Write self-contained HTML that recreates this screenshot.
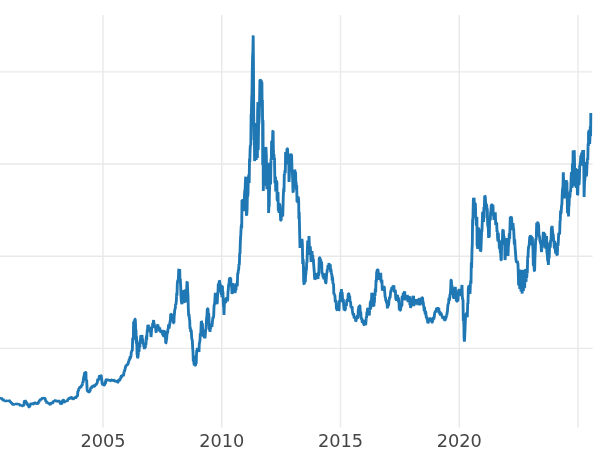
<!DOCTYPE html>
<html><head><meta charset="utf-8"><title>chart</title>
<style>
html,body{margin:0;padding:0;background:#fff;}
body{width:600px;height:450px;overflow:hidden;}
svg{display:block;}
.g line{stroke:#e9e9e9;stroke-width:1.42;}
.t{filter:grayscale(1);}
.t text{font-family:"DejaVu Sans","Liberation Sans",sans-serif;font-size:17.75px;fill:#454545;text-anchor:middle;}
.l{fill:none;stroke:#1f77b4;stroke-width:2.85;stroke-linejoin:bevel;stroke-linecap:butt;}
</style></head><body>
<svg width="600" height="450" viewBox="0 0 600 450">
<rect width="600" height="450" fill="#fff"/>
<g class="g"><line x1="103" y1="15" x2="103" y2="427.5"/><line x1="221.75" y1="15" x2="221.75" y2="427.5"/><line x1="340.5" y1="15" x2="340.5" y2="427.5"/><line x1="459.25" y1="15" x2="459.25" y2="427.5"/><line x1="578" y1="15" x2="578" y2="427.5"/><line x1="-5" y1="71.9" x2="592.6" y2="71.9"/><line x1="-5" y1="164.0" x2="592.6" y2="164.0"/><line x1="-5" y1="256.2" x2="592.6" y2="256.2"/><line x1="-5" y1="348.4" x2="592.6" y2="348.4"/></g>
<g class="t"><text x="103" y="447">2005</text><text x="221.75" y="447">2010</text><text x="340.5" y="447">2015</text><text x="459.25" y="447">2020</text></g>
<path class="l" d="M-2.0,398.0 L-1.7,397.8 L-1.4,397.7 L-1.1,398.4 L-0.9,397.7 L-0.6,398.3 L-0.3,398.1 L0.0,398.4 L0.3,397.8 L0.6,398.6 L0.9,397.9 L1.1,398.7 L1.4,398.2 L1.7,398.4 L2.0,399.2 L2.3,399.2 L2.6,400.2 L2.9,399.0 L3.1,399.4 L3.4,400.3 L3.7,401.1 L4.0,400.4 L4.3,400.7 L4.6,400.5 L4.9,401.8 L5.1,400.2 L5.4,401.9 L5.7,401.0 L6.0,401.6 L6.3,400.9 L6.6,400.7 L6.9,400.9 L7.1,401.7 L7.4,400.5 L7.7,401.1 L8.0,400.8 L8.3,401.2 L8.6,400.8 L8.9,401.2 L9.1,400.5 L9.4,400.6 L9.7,401.0 L10.0,401.6 L10.3,402.3 L10.6,402.0 L10.9,402.0 L11.1,402.9 L11.4,402.9 L11.7,402.9 L12.0,403.6 L12.3,404.2 L12.6,404.2 L12.9,403.5 L13.1,404.2 L13.4,404.2 L13.7,404.7 L14.0,404.4 L14.3,404.7 L14.6,404.0 L14.9,404.7 L15.1,403.6 L15.4,404.0 L15.7,404.5 L16.0,404.0 L16.3,403.4 L16.6,403.9 L16.9,403.3 L17.1,404.0 L17.4,404.1 L17.7,403.8 L18.0,403.6 L18.3,404.5 L18.6,403.6 L18.9,404.5 L19.1,404.5 L19.4,404.6 L19.7,404.5 L20.0,404.8 L20.3,405.5 L20.6,405.8 L20.9,405.1 L21.1,405.5 L21.4,404.6 L21.7,405.8 L22.0,405.6 L22.3,405.8 L22.6,405.9 L22.9,405.9 L23.1,405.0 L23.4,405.1 L23.7,405.3 L24.0,405.2 L24.3,400.7 L24.6,401.0 L24.9,401.3 L25.2,400.8 L25.4,401.0 L25.7,401.2 L26.0,402.4 L26.3,403.5 L26.6,402.3 L26.9,403.0 L27.1,403.7 L27.4,405.3 L27.7,403.7 L28.0,405.2 L28.3,405.4 L28.6,406.0 L28.8,407.0 L29.1,407.1 L29.4,406.8 L29.7,407.1 L30.0,404.9 L30.4,404.6 L30.7,403.9 L31.0,403.6 L31.3,404.4 L31.6,404.6 L31.9,403.3 L32.1,403.5 L32.4,403.7 L32.7,403.8 L33.0,404.4 L33.3,404.1 L33.6,404.1 L33.9,403.2 L34.1,402.5 L34.4,403.1 L34.7,402.8 L35.0,402.8 L35.3,403.0 L35.6,403.8 L35.9,403.5 L36.1,403.3 L36.4,403.6 L36.7,403.8 L37.0,403.6 L37.3,402.3 L37.6,403.9 L37.9,403.4 L38.1,403.3 L38.4,402.8 L38.7,401.7 L39.0,401.6 L39.3,401.2 L39.6,400.3 L39.9,401.2 L40.1,399.8 L40.4,399.6 L40.7,399.6 L41.0,400.0 L41.3,399.1 L41.6,399.3 L41.9,398.5 L42.1,398.2 L42.4,398.3 L42.7,398.0 L43.0,398.6 L43.3,398.3 L43.6,397.7 L43.8,398.9 L44.1,398.3 L44.4,398.0 L44.7,397.7 L45.0,398.6 L45.4,399.7 L45.7,400.4 L46.0,401.6 L46.3,400.9 L46.6,402.8 L46.9,403.3 L47.1,402.4 L47.4,402.7 L47.7,402.1 L48.0,403.2 L48.3,402.6 L48.6,403.2 L48.9,403.3 L49.1,404.5 L49.4,403.4 L49.7,403.3 L50.0,404.4 L50.3,404.7 L50.6,404.0 L50.9,403.0 L51.1,403.6 L51.4,402.3 L51.7,403.1 L52.0,402.8 L52.3,403.5 L52.6,403.1 L52.9,402.5 L53.1,401.4 L53.4,401.4 L53.7,400.8 L54.0,401.2 L54.3,401.6 L54.6,401.0 L54.9,401.3 L55.1,400.4 L55.4,400.2 L55.7,401.1 L56.0,400.4 L56.3,401.3 L56.6,401.1 L56.9,401.2 L57.1,401.3 L57.4,401.2 L57.7,400.5 L58.0,401.0 L58.3,401.3 L58.6,401.1 L58.9,400.7 L59.1,400.9 L59.4,401.6 L59.7,401.7 L60.0,402.4 L60.3,403.3 L60.7,403.9 L61.0,403.6 L61.3,402.9 L61.6,403.9 L61.9,403.5 L62.1,403.0 L62.4,401.0 L62.7,400.3 L63.0,400.4 L63.3,400.1 L63.6,400.2 L63.9,400.4 L64.1,401.3 L64.4,402.0 L64.7,402.0 L65.0,401.6 L65.3,401.4 L65.6,401.6 L65.9,401.8 L66.1,400.4 L66.4,401.3 L66.7,401.6 L67.0,400.8 L67.3,401.1 L67.6,400.7 L67.9,399.7 L68.1,398.7 L68.4,399.8 L68.7,398.4 L69.0,398.4 L69.3,398.9 L69.6,399.0 L69.9,397.9 L70.1,397.8 L70.4,398.6 L70.7,398.1 L71.0,397.6 L71.3,397.3 L71.6,397.3 L71.9,397.3 L72.1,398.7 L72.4,398.7 L72.7,397.7 L73.0,398.4 L73.3,398.7 L73.6,398.7 L73.9,398.5 L74.1,397.9 L74.4,398.2 L74.7,397.4 L75.0,398.0 L75.3,396.6 L75.6,398.5 L75.9,397.5 L76.1,396.9 L76.4,397.5 L76.7,396.0 L77.0,396.0 L77.3,396.3 L77.6,395.4 L77.8,391.8 L78.1,391.0 L78.4,391.0 L78.7,389.4 L79.0,388.3 L79.3,388.9 L79.6,387.6 L79.9,387.1 L80.2,387.2 L80.4,386.6 L80.7,387.8 L81.0,387.0 L81.3,385.9 L81.6,385.7 L81.8,385.5 L82.1,385.9 L82.4,384.0 L82.7,381.9 L83.0,383.2 L83.4,379.2 L83.7,377.9 L84.0,376.0 L84.3,375.5 L84.6,372.3 L85.0,373.6 L85.3,372.1 L85.6,372.4 L85.9,372.1 L86.1,380.8 L86.4,380.0 L86.7,379.7 L86.9,385.7 L87.2,390.0 L87.5,391.0 L87.8,391.4 L88.1,391.2 L88.4,392.4 L88.7,392.1 L89.0,392.0 L89.4,392.2 L89.7,390.3 L90.0,391.0 L90.3,390.3 L90.6,388.5 L91.0,387.8 L91.3,388.8 L91.6,387.0 L91.9,386.8 L92.2,386.6 L92.4,386.7 L92.7,386.8 L93.0,385.6 L93.3,385.7 L93.6,386.1 L93.8,386.1 L94.1,386.2 L94.4,386.4 L94.7,386.4 L95.0,385.5 L95.4,385.3 L95.7,384.7 L96.0,384.4 L96.3,385.0 L96.6,383.4 L97.0,383.2 L97.3,382.6 L97.6,380.0 L97.9,379.0 L98.2,379.4 L98.4,380.0 L98.7,379.5 L99.0,378.0 L99.3,376.3 L99.6,375.7 L100.0,376.4 L100.3,375.3 L100.6,375.6 L100.9,375.7 L101.3,376.0 L101.6,379.0 L101.9,381.7 L102.1,383.5 L102.4,383.6 L102.7,385.1 L103.0,383.3 L103.3,385.2 L103.6,385.0 L103.9,385.0 L104.2,383.5 L104.4,385.0 L104.7,385.0 L105.0,383.5 L105.3,381.4 L105.6,383.6 L105.8,380.4 L106.1,380.0 L106.4,379.0 L106.7,380.2 L107.0,380.1 L107.4,378.9 L107.7,379.7 L108.0,380.0 L108.3,380.2 L108.6,380.0 L108.9,379.8 L109.1,380.2 L109.4,381.2 L109.7,379.9 L110.0,381.0 L110.3,380.9 L110.6,380.5 L110.9,379.5 L111.1,380.0 L111.4,380.4 L111.7,380.0 L112.0,379.8 L112.3,379.5 L112.6,381.0 L112.9,380.7 L113.1,381.2 L113.4,379.6 L113.7,380.0 L114.0,380.6 L114.3,379.8 L114.6,381.4 L114.9,380.6 L115.1,380.4 L115.4,381.2 L115.7,382.2 L116.0,381.6 L116.3,382.3 L116.6,381.3 L116.9,381.2 L117.1,382.5 L117.4,382.2 L117.7,382.4 L118.0,382.2 L118.3,380.6 L118.6,380.0 L118.9,381.4 L119.1,380.2 L119.4,378.7 L119.7,380.7 L120.0,379.0 L120.3,378.9 L120.6,378.9 L120.9,376.3 L121.1,378.1 L121.4,375.2 L121.7,377.2 L122.0,375.6 L122.3,375.4 L122.6,375.0 L123.0,375.3 L123.3,376.0 L123.6,375.0 L123.9,372.8 L124.2,371.3 L124.4,372.1 L124.7,369.8 L125.0,370.0 L125.3,367.6 L125.6,367.0 L125.8,365.7 L126.1,365.7 L126.4,366.0 L126.7,365.1 L127.0,364.6 L127.4,365.6 L127.7,363.7 L128.0,364.0 L128.3,363.2 L128.6,361.1 L129.0,361.0 L129.3,358.8 L129.6,360.0 L129.9,358.1 L130.2,356.2 L130.4,358.6 L130.7,356.9 L131.0,356.0 L131.3,351.8 L131.7,351.7 L132.0,350.0 L132.3,351.0 L132.7,337.9 L133.0,340.0 L133.3,339.1 L133.6,322.0 L133.9,321.9 L134.2,320.8 L134.6,322.5 L134.9,319.0 L135.2,319.0 L135.5,323.7 L135.7,329.7 L136.0,330.0 L136.3,343.7 L136.5,336.4 L136.8,344.0 L137.1,354.5 L137.3,355.3 L137.6,358.0 L137.9,357.4 L138.2,354.9 L138.4,353.3 L138.7,349.5 L139.0,352.0 L139.3,345.5 L139.6,342.5 L139.8,347.5 L140.1,340.2 L140.4,340.0 L140.7,336.9 L141.0,335.3 L141.4,339.2 L141.7,338.3 L142.0,335.0 L142.3,340.1 L142.7,338.6 L143.0,344.0 L143.3,343.0 L143.6,344.6 L143.8,346.7 L144.1,345.9 L144.4,349.0 L144.7,346.9 L145.0,344.3 L145.3,348.0 L145.6,343.0 L145.9,345.5 L146.2,339.8 L146.4,335.5 L146.7,340.3 L147.0,334.0 L147.3,330.3 L147.6,329.1 L147.8,324.7 L148.1,326.3 L148.4,325.0 L148.7,326.3 L149.0,327.5 L149.3,326.7 L149.6,330.0 L149.9,331.5 L150.2,329.1 L150.4,332.4 L150.7,332.0 L151.0,337.0 L151.3,333.9 L151.6,328.9 L151.8,326.9 L152.1,327.8 L152.4,328.0 L152.7,323.2 L153.0,324.9 L153.3,322.6 L153.6,320.0 L153.9,323.5 L154.2,323.6 L154.4,325.2 L154.7,327.9 L155.0,326.0 L155.3,327.1 L155.7,328.2 L156.0,332.0 L156.3,332.3 L156.6,326.9 L157.0,329.3 L157.3,327.5 L157.6,325.0 L157.9,324.7 L158.2,327.5 L158.4,328.2 L158.7,327.4 L159.0,327.0 L159.3,329.6 L159.6,331.1 L159.8,327.6 L160.1,330.9 L160.4,332.0 L160.7,331.6 L161.0,332.5 L161.4,332.0 L161.7,331.7 L162.0,330.0 L162.3,331.8 L162.6,334.7 L163.0,334.7 L163.3,336.0 L163.6,336.0 L163.9,333.3 L164.2,331.1 L164.4,331.0 L164.7,332.0 L165.0,332.0 L165.3,331.0 L165.7,343.2 L166.0,343.0 L166.3,340.3 L166.7,338.4 L167.0,334.0 L167.3,333.4 L167.7,332.0 L168.0,329.0 L168.3,328.2 L168.6,324.3 L169.0,328.5 L169.3,326.9 L169.6,325.0 L169.9,322.5 L170.2,320.9 L170.4,320.0 L170.7,313.7 L171.0,314.0 L171.3,316.7 L171.6,314.4 L171.8,314.3 L172.1,316.5 L172.4,319.0 L172.7,321.4 L173.0,319.3 L173.3,323.2 L173.6,323.0 L173.9,323.3 L174.1,317.1 L174.4,314.0 L174.7,310.4 L175.0,308.8 L175.3,308.5 L175.6,304.0 L175.9,304.8 L176.2,301.8 L176.4,300.5 L176.7,292.8 L177.0,296.0 L177.3,284.0 L177.7,280.8 L178.0,280.0 L178.3,280.5 L178.7,270.0 L179.0,269.0 L179.3,274.9 L179.7,269.1 L180.0,282.0 L180.3,278.8 L180.7,287.1 L181.0,296.0 L181.3,300.6 L181.7,303.3 L182.0,304.0 L182.3,302.7 L182.7,294.7 L183.0,294.0 L183.3,293.0 L183.7,291.1 L184.0,290.0 L184.3,293.9 L184.7,291.8 L185.0,302.0 L185.3,302.3 L185.7,289.4 L186.0,290.0 L186.3,293.2 L186.7,289.9 L187.0,282.0 L187.3,281.7 L187.7,290.8 L188.0,296.0 L188.3,308.1 L188.7,316.5 L189.0,314.0 L189.3,318.1 L189.7,320.3 L190.0,329.0 L190.3,327.5 L190.7,331.9 L191.0,330.0 L191.3,330.7 L191.7,337.6 L192.0,340.0 L192.3,339.8 L192.7,348.3 L193.0,352.0 L193.3,361.5 L193.7,355.5 L194.0,364.0 L194.3,365.1 L194.6,364.4 L195.0,365.3 L195.3,365.3 L195.6,365.0 L195.9,359.3 L196.2,364.0 L196.4,357.1 L196.7,350.1 L197.0,352.0 L197.3,347.9 L197.7,349.4 L198.0,348.0 L198.3,349.2 L198.7,349.4 L199.0,352.0 L199.3,343.5 L199.7,342.1 L200.0,340.0 L200.3,333.4 L200.7,336.8 L201.0,328.0 L201.3,321.2 L201.6,321.5 L201.9,325.7 L202.2,327.9 L202.4,323.3 L202.7,331.9 L203.0,330.0 L203.3,333.3 L203.6,336.5 L203.8,333.1 L204.1,335.1 L204.4,338.0 L204.7,335.1 L205.0,338.3 L205.4,333.4 L205.7,329.1 L206.0,329.0 L206.3,323.3 L206.7,317.1 L207.0,316.0 L207.3,308.7 L207.7,308.7 L208.0,309.0 L208.3,317.0 L208.7,313.0 L209.0,319.0 L209.3,330.1 L209.7,323.6 L210.0,332.0 L210.3,328.2 L210.6,328.9 L211.0,324.4 L211.3,324.5 L211.6,324.0 L211.9,326.8 L212.2,324.1 L212.4,322.2 L212.7,319.2 L213.0,317.0 L213.3,318.2 L213.7,315.5 L214.0,307.0 L214.3,304.6 L214.7,303.5 L215.0,298.0 L215.3,292.8 L215.7,296.6 L216.0,293.0 L216.3,296.4 L216.7,303.2 L217.0,304.0 L217.3,301.7 L217.7,292.8 L218.0,292.0 L218.3,283.5 L218.7,292.3 L219.0,284.0 L219.3,280.7 L219.6,281.0 L219.9,283.9 L220.3,284.7 L220.6,290.0 L220.9,289.1 L221.3,294.8 L221.6,294.0 L221.9,297.0 L222.1,286.1 L222.4,286.0 L222.7,294.7 L222.9,291.3 L223.2,300.0 L223.5,306.3 L223.7,306.8 L224.0,315.0 L224.3,305.2 L224.7,301.3 L225.0,302.0 L225.3,298.1 L225.7,303.2 L226.0,298.0 L226.3,298.7 L226.7,297.5 L227.0,300.0 L227.3,301.0 L227.7,299.8 L228.0,292.0 L228.3,289.5 L228.7,283.7 L229.0,286.0 L229.3,279.5 L229.7,277.7 L230.0,278.0 L230.3,278.7 L230.7,277.7 L231.0,285.0 L231.3,284.5 L231.7,287.5 L232.0,294.0 L232.3,291.0 L232.7,292.8 L233.0,283.0 L233.3,286.9 L233.7,284.8 L234.0,287.0 L234.3,288.1 L234.7,291.1 L235.0,293.0 L235.3,291.1 L235.7,289.8 L236.0,290.0 L236.3,284.0 L236.7,283.8 L237.0,284.0 L237.3,286.1 L237.7,272.7 L238.0,274.0 L238.3,270.7 L238.7,269.0 L239.0,264.0 L239.3,265.3 L239.7,253.1 L240.0,254.0 L240.3,242.9 L240.6,236.9 L240.8,234.4 L241.1,228.2 L241.4,225.0 L241.7,228.6 L242.0,200.0 L242.3,206.7 L242.6,210.3 L242.8,199.1 L243.1,201.1 L243.4,211.0 L243.7,209.9 L244.1,209.7 L244.4,197.0 L244.7,191.4 L245.1,189.4 L245.4,182.0 L245.7,176.7 L246.1,199.1 L246.4,215.0 L246.7,215.3 L247.1,209.0 L247.4,193.0 L247.7,196.5 L248.0,194.0 L248.3,177.4 L248.6,177.0 L248.9,174.5 L249.2,183.0 L249.5,158.8 L249.8,161.9 L250.1,150.0 L250.4,145.2 L250.8,145.1 L251.1,115.0 L251.4,113.5 L251.7,99.2 L252.0,93.4 L252.3,70.0 L252.6,56.4 L252.9,51.1 L253.2,35.4 L253.5,70.0 L253.7,115.0 L254.1,140.0 L254.3,125.9 L254.6,161.0 L254.9,158.3 L255.1,129.2 L255.4,126.0 L255.7,157.7 L255.9,151.8 L256.2,160.0 L256.5,136.6 L256.7,122.9 L257.0,124.0 L257.4,158.0 L257.6,112.7 L257.9,102.0 L258.2,150.0 L258.6,125.0 L258.9,122.9 L259.3,115.3 L259.6,100.0 L259.9,80.5 L260.2,79.7 L260.5,80.0 L260.8,81.9 L261.0,83.0 L261.3,80.5 L261.6,83.3 L261.9,82.1 L262.1,106.2 L262.4,100.0 L262.6,125.0 L262.7,165.0 L263.0,120.3 L263.3,191.0 L263.6,180.8 L263.9,179.6 L264.2,185.6 L264.5,170.0 L264.8,167.9 L265.1,168.1 L265.4,153.1 L265.7,147.0 L266.0,148.2 L266.3,154.7 L266.6,172.0 L266.9,189.2 L267.2,186.6 L267.5,188.0 L267.8,171.2 L268.1,167.0 L268.4,162.7 L268.6,213.0 L268.9,206.2 L269.2,206.4 L269.4,194.1 L269.7,184.1 L270.0,185.0 L270.3,183.3 L270.6,184.1 L271.0,158.7 L271.3,160.0 L271.6,141.1 L271.9,143.8 L272.2,140.3 L272.5,142.7 L272.8,131.0 L273.1,130.7 L273.4,151.4 L273.6,155.4 L273.9,154.1 L274.2,160.0 L274.5,157.9 L274.9,183.2 L275.2,177.0 L275.5,176.8 L275.7,191.4 L276.0,190.0 L276.3,181.0 L276.6,181.0 L276.9,182.6 L277.1,198.9 L277.4,201.0 L277.7,193.0 L278.0,192.0 L278.3,210.7 L278.7,205.2 L279.0,213.0 L279.3,203.3 L279.6,205.0 L279.9,204.9 L280.3,212.8 L280.6,220.0 L280.9,220.3 L281.2,220.3 L281.4,213.3 L281.7,215.1 L282.0,216.0 L282.3,209.6 L282.7,216.7 L283.0,208.0 L283.3,195.6 L283.7,188.3 L284.0,192.0 L284.3,173.9 L284.7,174.4 L285.0,170.0 L285.3,173.1 L285.6,152.0 L285.9,159.4 L286.2,153.8 L286.5,156.4 L286.7,155.2 L287.0,148.7 L287.3,148.7 L287.6,149.0 L287.9,162.5 L288.1,164.4 L288.4,160.0 L288.7,153.8 L289.0,182.0 L289.3,177.2 L289.7,162.0 L290.0,156.0 L290.3,154.9 L290.6,154.7 L291.0,154.7 L291.3,154.7 L291.6,155.0 L292.0,170.0 L292.3,170.2 L292.7,179.9 L293.0,192.0 L293.3,192.3 L293.7,170.7 L294.0,172.0 L294.3,177.8 L294.6,169.7 L295.0,170.7 L295.3,176.7 L295.6,172.0 L295.9,187.2 L296.1,181.9 L296.4,190.0 L296.7,185.0 L297.0,202.0 L297.3,200.6 L297.6,199.3 L297.8,203.2 L298.1,196.4 L298.4,198.0 L298.7,201.4 L298.9,218.9 L299.2,212.0 L299.6,231.0 L300.0,248.0 L300.3,242.3 L300.6,244.4 L301.0,246.5 L301.3,244.9 L301.6,241.0 L301.9,238.9 L302.2,241.0 L302.4,245.0 L302.7,264.0 L303.0,259.0 L303.3,261.2 L303.7,281.2 L304.0,284.0 L304.3,284.3 L304.6,278.5 L305.0,276.0 L305.3,282.1 L305.6,275.0 L305.9,274.0 L306.2,266.8 L306.4,270.9 L306.7,262.0 L307.0,263.0 L307.3,251.9 L307.7,240.6 L308.0,245.0 L308.3,246.2 L308.7,245.4 L309.0,236.0 L309.3,244.2 L309.7,254.9 L310.0,251.0 L310.3,246.3 L310.7,253.7 L311.0,262.0 L311.3,257.6 L311.7,261.5 L312.0,251.0 L312.3,259.2 L312.7,255.0 L313.0,259.0 L313.3,258.9 L313.7,264.7 L314.0,269.0 L314.3,272.2 L314.7,279.3 L315.0,279.0 L315.3,274.7 L315.6,279.3 L315.8,277.7 L316.1,277.8 L316.4,273.0 L316.7,277.1 L317.0,276.5 L317.4,274.8 L317.7,275.9 L318.0,279.0 L318.3,272.4 L318.7,275.9 L319.0,267.0 L319.3,257.7 L319.7,257.7 L320.0,258.0 L320.3,263.9 L320.7,259.3 L321.0,265.0 L321.3,261.6 L321.7,263.8 L322.0,273.0 L322.3,273.5 L322.6,272.8 L323.0,277.0 L323.3,277.0 L323.6,275.0 L323.9,279.3 L324.2,274.4 L324.4,273.5 L324.7,274.4 L325.0,279.0 L325.3,280.4 L325.7,283.2 L326.0,283.0 L326.3,278.6 L326.7,272.8 L327.0,273.0 L327.3,269.2 L327.7,269.5 L328.0,265.0 L328.3,266.2 L328.7,266.0 L329.0,263.0 L329.3,267.6 L329.7,266.8 L330.0,266.0 L330.3,264.3 L330.6,272.2 L331.0,269.0 L331.3,273.1 L331.6,274.0 L331.9,274.9 L332.2,280.4 L332.4,277.0 L332.7,279.5 L333.0,284.0 L333.3,283.6 L333.6,284.8 L333.8,294.5 L334.1,293.3 L334.4,295.0 L334.7,294.8 L335.0,296.8 L335.3,302.5 L335.6,300.0 L335.9,302.2 L336.2,301.4 L336.4,308.9 L336.7,308.9 L337.0,310.0 L337.3,310.3 L337.6,307.2 L337.8,309.2 L338.1,310.3 L338.4,309.0 L338.7,310.3 L339.0,310.1 L339.4,300.4 L339.7,301.2 L340.0,302.0 L340.3,294.2 L340.6,292.6 L340.8,300.8 L341.1,293.2 L341.4,289.0 L341.7,296.6 L342.1,292.1 L342.4,296.0 L342.7,302.2 L343.0,299.4 L343.3,299.2 L343.6,304.0 L343.9,307.7 L344.2,310.3 L344.4,304.5 L344.7,309.4 L345.0,310.0 L345.3,310.0 L345.6,306.1 L345.8,306.5 L346.1,303.6 L346.4,306.0 L346.7,301.0 L347.0,299.9 L347.3,301.9 L347.6,299.0 L347.9,299.6 L348.2,294.3 L348.4,293.7 L348.7,293.7 L349.0,294.0 L349.3,299.1 L349.7,295.7 L350.0,302.0 L350.3,301.5 L350.6,302.4 L351.0,307.5 L351.3,307.1 L351.6,308.0 L351.9,306.2 L352.2,307.7 L352.4,310.9 L352.7,313.0 L353.0,314.0 L353.3,315.5 L353.6,313.3 L353.8,314.5 L354.1,318.2 L354.4,318.0 L354.7,317.9 L355.0,317.7 L355.4,318.5 L355.7,321.3 L356.0,321.0 L356.3,318.7 L356.6,319.4 L356.8,317.1 L357.1,316.1 L357.4,316.0 L357.7,317.8 L358.0,317.6 L358.3,309.6 L358.6,309.0 L358.9,306.2 L359.2,309.5 L359.4,305.7 L359.7,305.7 L360.0,306.0 L360.3,314.9 L360.7,311.6 L361.0,316.0 L361.3,319.6 L361.7,318.0 L362.0,320.0 L362.3,322.8 L362.6,321.4 L363.0,320.4 L363.3,320.7 L363.6,324.0 L363.9,324.3 L364.2,324.9 L364.5,325.3 L364.7,322.3 L365.0,325.3 L365.3,324.0 L365.6,325.0 L365.9,322.5 L366.3,316.8 L366.6,318.0 L366.9,312.1 L367.3,311.9 L367.6,308.0 L367.9,312.2 L368.2,307.7 L368.4,311.5 L368.7,314.5 L369.0,314.0 L369.3,315.5 L369.7,308.4 L370.0,310.0 L370.3,301.5 L370.7,309.4 L371.0,300.0 L371.3,303.9 L371.6,297.0 L371.8,292.7 L372.1,298.0 L372.4,293.0 L372.7,295.5 L373.0,304.6 L373.3,303.6 L373.6,306.0 L373.9,306.3 L374.2,298.7 L374.4,302.8 L374.7,294.4 L375.0,296.0 L375.3,288.6 L375.7,292.2 L376.0,280.0 L376.3,282.1 L376.7,271.5 L377.0,272.0 L377.3,269.4 L377.7,269.7 L378.0,269.6 L378.3,273.7 L378.7,274.5 L379.0,280.0 L379.3,275.5 L379.6,275.7 L379.8,279.3 L380.1,279.3 L380.4,275.0 L380.7,272.8 L381.0,279.1 L381.3,282.7 L381.6,282.0 L381.9,279.9 L382.3,290.5 L382.6,290.0 L382.9,286.7 L383.2,289.1 L383.4,287.9 L383.7,287.7 L384.0,286.0 L384.3,287.5 L384.7,291.5 L385.0,296.0 L385.3,297.6 L385.6,297.8 L385.8,300.9 L386.1,300.4 L386.4,302.0 L386.7,303.0 L387.0,300.2 L387.3,307.4 L387.6,308.0 L387.9,306.0 L388.2,302.3 L388.4,305.7 L388.7,304.4 L389.0,300.0 L389.3,299.2 L389.7,296.7 L390.0,298.0 L390.3,295.6 L390.7,290.8 L391.0,292.0 L391.3,288.9 L391.6,290.0 L391.8,287.0 L392.1,288.4 L392.4,288.0 L392.7,287.6 L393.0,285.7 L393.3,287.7 L393.6,286.0 L393.9,285.7 L394.2,290.6 L394.4,292.2 L394.7,291.1 L395.0,292.0 L395.3,289.9 L395.7,297.1 L396.0,300.0 L396.3,298.1 L396.6,300.8 L397.0,294.7 L397.3,298.6 L397.6,295.0 L397.9,300.6 L398.2,299.9 L398.4,302.0 L398.7,297.6 L399.0,302.0 L399.3,310.3 L399.7,307.0 L400.0,310.0 L400.3,310.3 L400.6,310.3 L401.0,302.6 L401.3,307.1 L401.6,303.0 L401.9,305.9 L402.2,295.8 L402.4,297.3 L402.7,300.1 L403.0,296.0 L403.3,293.1 L403.6,296.9 L403.8,292.2 L404.1,295.1 L404.4,292.0 L404.7,291.7 L405.0,295.5 L405.3,300.3 L405.6,299.0 L405.9,296.8 L406.2,296.7 L406.4,297.8 L406.7,296.5 L407.0,297.0 L407.3,295.1 L407.6,296.5 L407.8,296.7 L408.1,302.2 L408.4,300.0 L408.7,300.6 L409.0,301.8 L409.3,296.7 L409.6,297.0 L409.9,305.1 L410.3,298.7 L410.6,308.0 L410.9,306.3 L411.2,306.2 L411.4,301.7 L411.7,305.6 L412.0,300.0 L412.3,299.3 L412.7,298.2 L413.0,296.0 L413.3,301.8 L413.6,295.7 L413.8,306.1 L414.1,303.4 L414.4,304.0 L414.7,302.1 L415.0,304.6 L415.4,299.0 L415.7,304.3 L416.0,299.0 L416.3,300.9 L416.6,300.3 L417.0,304.6 L417.3,303.2 L417.6,305.0 L417.9,301.0 L418.2,304.7 L418.4,298.7 L418.7,303.0 L419.0,299.0 L419.3,298.7 L419.6,302.2 L419.8,305.3 L420.1,303.4 L420.4,304.0 L420.7,303.8 L421.0,299.9 L421.3,297.7 L421.6,299.0 L421.9,297.7 L422.3,297.7 L422.6,298.0 L422.9,302.0 L423.3,302.5 L423.6,306.0 L423.9,307.1 L424.2,311.1 L424.4,307.1 L424.7,308.9 L425.0,312.0 L425.3,314.2 L425.6,311.2 L425.8,312.3 L426.1,315.8 L426.4,318.0 L426.7,316.7 L427.0,319.2 L427.4,319.4 L427.7,322.3 L428.0,323.0 L428.3,322.5 L428.6,319.9 L429.0,321.2 L429.3,319.8 L429.6,319.0 L429.9,317.7 L430.2,321.5 L430.4,318.3 L430.7,318.1 L431.0,320.0 L431.3,318.7 L431.6,321.4 L431.8,322.3 L432.1,322.3 L432.4,322.0 L432.7,320.6 L433.0,319.2 L433.4,317.1 L433.7,319.5 L434.0,318.0 L434.3,316.4 L434.7,312.9 L435.0,312.0 L435.3,312.5 L435.6,310.5 L435.8,312.5 L436.1,310.9 L436.4,309.0 L436.7,307.8 L437.0,310.3 L437.4,307.7 L437.7,308.4 L438.0,308.0 L438.3,308.7 L438.6,308.3 L438.8,308.2 L439.1,313.5 L439.4,313.0 L439.7,311.1 L440.0,313.6 L440.4,315.3 L440.7,312.4 L441.0,314.0 L441.3,313.2 L441.6,315.7 L442.0,315.8 L442.3,317.1 L442.6,317.0 L442.9,318.8 L443.2,316.2 L443.5,317.3 L443.7,317.7 L444.0,317.0 L444.3,320.3 L444.6,320.0 L444.9,320.3 L445.2,319.9 L445.4,315.7 L445.7,319.3 L446.0,317.0 L446.3,317.4 L446.6,314.8 L446.8,315.5 L447.1,312.5 L447.4,312.0 L447.7,307.5 L448.0,304.5 L448.3,303.6 L448.6,304.0 L448.9,297.7 L449.2,298.2 L449.4,300.7 L449.7,297.9 L450.0,294.0 L450.3,294.7 L450.7,288.5 L451.0,280.0 L451.3,279.9 L451.7,284.7 L452.0,286.0 L452.3,287.7 L452.6,294.7 L452.8,293.5 L453.1,292.2 L453.4,298.0 L453.7,297.6 L454.0,298.6 L454.4,290.9 L454.7,294.8 L455.0,290.0 L455.3,286.9 L455.6,291.5 L456.0,293.5 L456.3,301.3 L456.6,301.0 L456.9,301.3 L457.2,301.3 L457.4,299.2 L457.7,301.3 L458.0,300.0 L458.3,294.0 L458.7,290.0 L459.0,290.0 L459.3,293.2 L459.7,290.3 L460.0,289.0 L460.3,292.7 L460.7,293.6 L461.0,294.0 L461.3,296.1 L461.7,287.9 L462.0,285.0 L462.3,296.5 L462.7,299.5 L463.0,300.0 L463.3,321.3 L463.6,320.0 L463.9,325.1 L464.1,337.7 L464.4,341.6 L464.7,336.3 L465.0,330.0 L465.3,321.3 L465.7,315.0 L466.0,314.0 L466.3,315.6 L466.7,312.4 L467.0,316.0 L467.3,317.3 L467.7,303.0 L468.0,304.0 L468.3,289.4 L468.7,285.9 L469.0,286.0 L469.3,293.2 L469.7,289.5 L470.0,294.0 L470.3,286.3 L470.7,280.6 L471.0,284.0 L471.3,262.4 L471.6,268.0 L472.0,250.0 L472.3,244.1 L472.6,220.0 L472.9,218.5 L473.1,212.2 L473.4,198.0 L473.7,204.8 L474.1,197.7 L474.4,206.0 L474.7,206.3 L475.1,203.1 L475.4,204.0 L475.7,214.9 L476.0,218.6 L476.3,225.7 L476.6,220.0 L476.9,217.1 L477.1,245.3 L477.4,246.0 L477.7,248.8 L478.0,246.7 L478.3,227.4 L478.6,230.0 L478.9,229.1 L479.3,230.8 L479.6,242.0 L479.9,237.4 L480.3,251.3 L480.6,251.0 L480.9,250.4 L481.3,240.3 L481.6,230.0 L481.9,231.6 L482.3,221.6 L482.6,212.0 L482.9,212.1 L483.3,211.8 L483.6,222.0 L483.9,207.0 L484.1,218.2 L484.4,206.0 L484.7,195.7 L485.0,196.0 L485.3,197.4 L485.7,203.3 L486.0,210.0 L486.3,203.7 L486.7,205.9 L487.0,208.0 L487.3,209.6 L487.7,225.3 L488.0,226.0 L488.3,228.1 L488.6,238.0 L488.9,227.4 L489.3,237.1 L489.6,220.0 L489.9,217.7 L490.3,220.4 L490.6,212.0 L490.9,211.6 L491.3,204.7 L491.6,205.0 L491.9,204.7 L492.2,204.7 L492.4,208.6 L492.7,204.7 L493.0,206.0 L493.3,215.3 L493.7,215.5 L494.0,220.0 L494.3,214.7 L494.7,219.9 L495.0,214.0 L495.3,212.3 L495.7,225.0 L496.0,224.0 L496.3,222.6 L496.7,223.4 L497.0,232.0 L497.3,230.6 L497.6,237.7 L498.0,241.3 L498.3,232.9 L498.6,240.0 L498.9,241.5 L499.2,243.1 L499.4,248.7 L499.7,242.4 L500.0,248.0 L500.3,252.1 L500.7,253.0 L501.0,260.0 L501.3,260.1 L501.7,241.3 L502.0,240.0 L502.3,244.8 L502.7,230.1 L503.0,230.0 L503.3,229.7 L503.7,237.6 L504.0,236.0 L504.3,244.6 L504.7,241.1 L505.0,260.0 L505.3,257.4 L505.7,242.8 L506.0,246.0 L506.3,248.0 L506.7,243.8 L507.0,238.0 L507.3,250.9 L507.7,252.2 L508.0,256.0 L508.3,247.4 L508.7,243.4 L509.0,240.0 L509.3,233.3 L509.7,238.6 L510.0,226.0 L510.3,216.7 L510.7,226.6 L511.0,217.0 L511.3,216.7 L511.7,218.8 L512.0,228.0 L512.3,223.1 L512.7,230.1 L513.0,223.0 L513.3,227.8 L513.7,229.6 L514.0,236.0 L514.3,244.4 L514.7,239.2 L515.0,246.0 L515.3,250.2 L515.7,255.4 L516.0,260.0 L516.3,261.6 L516.6,262.3 L516.8,262.3 L517.1,260.7 L517.4,262.0 L517.7,263.0 L517.9,263.0 L518.2,270.0 L518.6,285.0 L518.9,285.0 L519.2,269.5 L519.5,283.6 L519.8,289.0 L520.1,285.8 L520.4,270.0 L520.7,271.3 L521.0,291.5 L521.3,279.3 L521.6,270.5 L521.9,290.2 L522.2,293.5 L522.5,284.6 L522.8,271.0 L523.1,270.9 L523.4,291.0 L523.7,279.4 L524.0,270.0 L524.4,287.8 L524.7,287.0 L525.0,271.8 L525.3,269.5 L525.6,269.8 L526.0,282.0 L526.3,275.5 L526.7,278.0 L527.0,272.0 L527.3,273.2 L527.7,256.3 L528.0,258.0 L528.3,249.8 L528.6,247.8 L528.8,245.8 L529.1,245.9 L529.4,242.0 L529.7,237.2 L530.0,236.8 L530.3,235.7 L530.6,236.0 L530.9,242.2 L531.2,240.2 L531.4,235.7 L531.7,245.2 L532.0,240.0 L532.3,237.1 L532.7,244.9 L533.0,250.0 L533.3,264.8 L533.7,265.6 L534.0,265.0 L534.3,270.8 L534.6,271.0 L535.0,256.0 L535.3,249.9 L535.7,238.8 L536.0,240.0 L536.3,237.4 L536.7,222.7 L537.0,223.0 L537.3,222.7 L537.6,222.7 L538.0,222.7 L538.3,223.9 L538.6,225.0 L538.9,234.9 L539.1,235.6 L539.4,236.0 L539.7,237.7 L540.0,241.9 L540.3,241.5 L540.6,244.0 L540.9,241.4 L541.3,250.5 L541.6,252.0 L541.9,246.1 L542.3,248.1 L542.6,240.0 L542.9,244.5 L543.1,234.2 L543.4,232.0 L543.7,233.3 L544.0,235.6 L544.3,233.2 L544.6,234.0 L544.9,233.7 L545.1,245.2 L545.4,246.0 L545.7,248.6 L546.0,245.2 L546.3,241.9 L546.6,236.0 L546.9,253.3 L547.1,253.0 L547.4,256.0 L547.7,260.8 L548.1,261.0 L548.4,265.0 L548.7,257.0 L549.1,258.8 L549.4,252.0 L549.7,242.4 L550.0,244.7 L550.3,247.7 L550.6,240.0 L550.9,240.8 L551.2,236.6 L551.4,227.6 L551.7,228.3 L552.0,226.0 L552.3,228.3 L552.7,233.2 L553.0,234.0 L553.3,235.3 L553.7,241.5 L554.0,242.0 L554.3,248.4 L554.7,240.9 L555.0,246.0 L555.3,250.1 L555.7,253.5 L556.0,252.0 L556.3,251.7 L556.7,253.8 L557.0,255.0 L557.3,255.3 L557.7,242.9 L558.0,246.0 L558.3,242.5 L558.7,232.9 L559.0,234.0 L559.3,234.3 L559.7,232.7 L560.0,222.0 L560.3,219.4 L560.6,210.6 L561.0,213.8 L561.3,210.0 L561.6,205.5 L561.9,204.4 L562.2,195.0 L562.5,189.4 L562.8,187.1 L563.0,186.8 L563.3,172.3 L563.6,180.1 L564.0,186.0 L564.3,187.2 L564.5,198.3 L564.8,197.0 L565.1,186.6 L565.3,193.9 L565.6,186.0 L566.0,181.4 L566.3,180.0 L566.6,193.6 L566.9,181.8 L567.2,198.0 L567.5,213.2 L567.9,204.1 L568.2,202.3 L568.5,216.5 L568.8,206.7 L569.1,205.1 L569.5,192.2 L569.8,198.0 L570.1,193.6 L570.3,190.6 L570.6,192.1 L570.9,186.0 L571.2,175.6 L571.5,172.0 L571.8,173.5 L572.1,188.0 L572.4,163.6 L572.6,165.0 L572.9,169.4 L573.1,150.5 L573.4,158.8 L573.7,152.2 L574.0,150.5 L574.3,151.5 L574.6,166.0 L575.0,186.0 L575.3,185.9 L575.6,168.0 L576.0,174.6 L576.3,188.0 L576.5,172.1 L576.8,172.0 L577.1,170.8 L577.4,195.0 L577.8,194.3 L578.1,180.0 L578.4,169.0 L578.8,184.7 L579.1,184.0 L579.4,178.7 L579.7,166.0 L580.0,165.3 L580.2,163.8 L580.5,161.0 L580.8,155.3 L581.1,165.7 L581.4,157.0 L581.7,152.7 L582.0,155.9 L582.4,157.2 L582.7,150.0 L583.0,154.5 L583.3,153.5 L583.6,150.0 L583.9,175.0 L584.1,197.0 L584.5,182.1 L584.8,180.0 L585.1,176.7 L585.3,162.1 L585.6,165.0 L585.9,173.1 L586.2,166.4 L586.4,176.4 L586.7,173.0 L587.0,164.5 L587.2,164.3 L587.5,158.2 L587.8,160.0 L588.1,143.6 L588.5,146.0 L588.5,132.0 L588.8,132.1 L589.1,130.0 L589.4,143.0 L589.7,143.9 L590.0,136.7 L590.3,126.3 L590.6,136.0 L590.8,113.0"/>
</svg>
</body></html>
